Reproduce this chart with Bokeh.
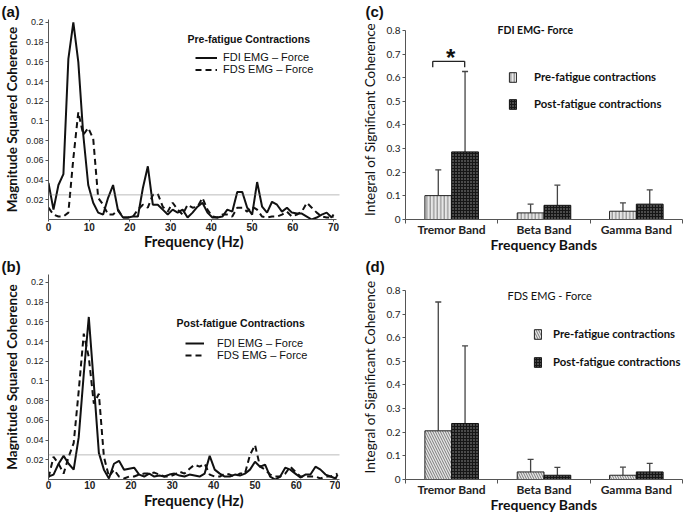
from bokeh.plotting import figure
from bokeh.models import (Range1d, FactorRange, FixedTicker, Span, Label, Legend, LegendItem,
                          Whisker, TeeHead, ColumnDataSource, Title, LinearAxis)
from bokeh.transform import dodge
from bokeh.layouts import row, column
from bokeh.embed import file_html
from bokeh.resources import INLINE
from bokeh.core.properties import value

# ---------------- data ----------------
freq = [0, 1.22, 2.44, 3.66, 4.88, 6.1, 7.32, 8.54, 9.76, 10.98, 12.2, 13.42, 14.64, 15.86,
        17.08, 18.3, 19.52, 20.74, 21.96, 23.18, 24.4, 25.62, 26.84, 28.06, 29.28, 30.5,
        31.72, 32.94, 34.16, 35.38, 36.6, 37.82, 39.04, 40.26, 41.48, 42.7, 43.92, 45.14,
        46.36, 47.58, 48.8, 50.02, 51.24, 52.46, 53.68, 54.9, 56.12, 57.34, 58.56, 59.78,
        61.0, 62.22, 63.44, 64.66, 65.88, 67.1, 68.32, 69.54, 70.0]

pre_fdi = [0.037, 0.010, 0.035, 0.046, 0.163, 0.200, 0.160, 0.086, 0.035, 0.017,
           0.007, 0.005, 0.022, 0.035, 0.009, 0.002, 0.002, 0.003, 0.003, 0.032,
           0.054, 0.015, 0.015, 0.010, 0.005, 0.010, 0.007, 0.010, 0.002, 0.007,
           0.013, 0.017, 0.007, 0.002, 0.002, 0.003, 0.010, 0.008, 0.028, 0.028,
           0.012, 0.005, 0.038, 0.013, 0.007, 0.018, 0.015, 0.008, 0.012, 0.007,
           0.006, 0.006, 0.003, 0.000, 0.002, 0.005, 0.007, 0.002, 0.005]
pre_fds = [0.012, 0.005, 0.003, 0.003, 0.007, 0.062, 0.109, 0.086, 0.093, 0.082,
           0.022, 0.015, 0.005, 0.005, 0.010, 0.002, 0.002, 0.003, 0.010, 0.015,
           0.012, 0.025, 0.026, 0.013, 0.008, 0.017, 0.010, 0.005, 0.015, 0.012,
           0.013, 0.022, 0.010, 0.003, 0.002, 0.005, 0.005, 0.003, 0.012, 0.012,
           0.008, 0.013, 0.010, 0.003, 0.002, 0.003, 0.003, 0.005, 0.008, 0.003,
           0.005, 0.008, 0.017, 0.012, 0.007, 0.003, 0.002, 0.002, 0.003]
post_fdi = [0.003, 0.005, 0.016, 0.024, 0.016, 0.010, 0.043, 0.107, 0.165, 0.097,
            0.027, 0.010, 0.001, 0.016, 0.019, 0.010, 0.011, 0.012, 0.005, 0.003,
            0.006, 0.003, 0.004, 0.003, 0.005, 0.006, 0.004, 0.003, 0.005, 0.004,
            0.003, 0.006, 0.024, 0.010, 0.006, 0.003, 0.003, 0.005, 0.004, 0.006,
            0.010, 0.018, 0.013, 0.015, 0.003, 0.000, 0.003, 0.012, 0.010, 0.006,
            0.002, 0.005, 0.005, 0.013, 0.010, 0.005, 0.003, 0.001, 0.005]
post_fds = [0.002, 0.023, 0.016, 0.006, 0.023, 0.037, 0.090, 0.148, 0.124, 0.077,
            0.087, 0.023, 0.003, 0.010, 0.003, 0.001, 0.003, 0.003, 0.005, 0.006,
            0.006, 0.007, 0.005, 0.003, 0.003, 0.005, 0.008, 0.006, 0.011, 0.015,
            0.013, 0.016, 0.005, 0.003, 0.003, 0.006, 0.005, 0.003, 0.006, 0.006,
            0.025, 0.035, 0.013, 0.010, 0.005, 0.003, 0.003, 0.006, 0.013, 0.008,
            0.003, 0.003, 0.003, 0.003, 0.001, 0.003, 0.003, 0.005, 0.006]
threshold = 0.025

coh_ticks = [0.02, 0.04, 0.06, 0.08, 0.1, 0.12, 0.14, 0.16, 0.18, 0.2]
coh_tick_labels = ["0.02", "0.04", "0.06", "0.08", "0.1", "0.12", "0.14", "0.16", "0.18", "0.2"]
freq_ticks = [0, 10, 20, 30, 40, 50, 60, 70]

bands = ["Tremor Band", "Beta Band", "Gamma Band"]
fdi_pre_mean = [0.101, 0.028, 0.035]
fdi_pre_sd = [0.109, 0.037, 0.035]
fdi_post_mean = [0.286, 0.060, 0.065]
fdi_post_sd = [0.340, 0.085, 0.060]
fds_pre_mean = [0.206, 0.032, 0.018]
fds_pre_sd = [0.545, 0.053, 0.034]
fds_post_mean = [0.237, 0.018, 0.032]
fds_post_sd = [0.328, 0.033, 0.036]
sig_level = 0.669
bar_ticks = [0, 0.1, 0.2, 0.3, 0.4, 0.5, 0.6, 0.7, 0.8]
bar_tick_labels = ["0", "0.1", "0.2", "0.3", "0.4", "0.5", "0.6", "0.7", "0.8"]

ARIAL = "Liberation Sans"
CAL = "Lato"
INK = "#111111"
AXC = "#555555"


def style_axes(p):
    for ax in list(p.xaxis) + list(p.yaxis):
        ax.axis_line_color = AXC
        ax.major_tick_line_color = AXC
        ax.minor_tick_line_color = None
        ax.major_tick_in = 0
        ax.major_tick_out = 3
        ax.major_label_text_color = "#222222"
        ax.axis_label_text_color = INK


def base_fig(w, h, xr, yr, bl, br, bt, bb, letter, letter_off, x_axis_type="auto"):
    p = figure(width=w, height=h, x_range=xr, y_range=yr, title=None,
               x_axis_type=x_axis_type,
               output_backend="svg", toolbar_location=None,
               min_border_left=bl, min_border_right=br, min_border_top=bt, min_border_bottom=bb)
    p.outline_line_color = None
    p.xgrid.grid_line_color = None
    p.ygrid.grid_line_color = None
    p.background_fill_color = "white"
    p.border_fill_color = "white"
    p.add_layout(Title(text=letter, align="left", offset=letter_off, standoff=0,
                       text_font=ARIAL, text_font_size="15px", text_font_style="bold",
                       text_color=INK), "above")
    return p


def coh_panel(w, h, bl, br, bt, bb, xend, xbound, yend, fdi, fds, letter, title,
              leg_x, leg_y, title_x, title_y, glyph_w, glyph_h, standoff,
              letter_off, xtick_out, xlab_standoff, xaxlab_standoff):
    p = base_fig(w, h, Range1d(0, xend), Range1d(0, yend), bl, br, bt, bb, letter, letter_off)
    style_axes(p)
    r1 = p.line(freq, fdi, line_color=INK, line_width=2)
    r2 = p.line(freq, fds, line_color=INK, line_width=2, line_dash="6 4")
    p.add_layout(Span(location=threshold, dimension="width", line_color="#777777",
                      line_width=1, line_dash="1 1"))

    p.yaxis.ticker = FixedTicker(ticks=coh_ticks)
    p.yaxis.major_label_overrides = {t: l for t, l in zip(coh_ticks, coh_tick_labels)}
    p.xaxis.ticker = FixedTicker(ticks=freq_ticks)
    p.xaxis.bounds = (0, xbound)
    p.yaxis.major_label_text_font = ARIAL
    p.yaxis.major_label_text_font_size = "9px"
    p.yaxis.major_label_standoff = 2
    p.yaxis.axis_label = "Magnitude Squared Coherence"
    p.yaxis.axis_label_text_font = CAL
    p.yaxis.axis_label_text_font_size = "13.5px"
    p.yaxis.axis_label_text_font_style = "bold"
    p.yaxis.axis_label_standoff = 3
    p.xaxis.major_tick_out = xtick_out
    p.xaxis.major_label_text_font = ARIAL
    p.xaxis.major_label_text_font_size = "10px"
    p.xaxis.major_label_text_font_style = "bold"
    p.xaxis.major_label_standoff = xlab_standoff
    p.xaxis.axis_label = "Frequency (Hz)"
    p.xaxis.axis_label_text_font = CAL
    p.xaxis.axis_label_text_font_size = "15px"
    p.xaxis.axis_label_text_font_style = "bold"
    p.xaxis.axis_label_standoff = xaxlab_standoff

    leg = Legend(items=[LegendItem(label="FDI EMG \u2013 Force", renderers=[r1]),
                        LegendItem(label="FDS EMG \u2013 Force", renderers=[r2])],
                 location=(leg_x, leg_y), orientation="vertical",
                 background_fill_alpha=0, border_line_color=None,
                 padding=0, margin=0, spacing=0,
                 glyph_width=glyph_w, glyph_height=glyph_h, label_height=glyph_h,
                 label_standoff=standoff,
                 label_text_font=ARIAL, label_text_font_size="11px",
                 label_text_color=INK, label_text_baseline="middle")
    p.add_layout(leg)
    p.add_layout(Label(x=title_x, y=title_y, x_units="screen", y_units="screen",
                       text=title, text_font=ARIAL, text_font_size="10.5px",
                       text_font_style="bold", text_baseline="middle", text_color=INK))
    return p


def band_panel(w, h, bl, br, bt, bb, yend, pre_mean, pre_sd, post_mean, post_sd, letter,
               title, title_bold, title_x, title_y, leg_x, leg_y, leg_spacing, standoff,
               pre_hatch, hatch_scale, sig, letter_off):
    p = base_fig(w, h, FactorRange(*bands), Range1d(0, yend), bl, br, bt, bb, letter,
                 letter_off, x_axis_type=None)
    p.x_range.range_padding = 0
    # category centres sit at 0.5, 1.5, 2.5 of the factor range; boundary ticks at 0..3
    centres = [i + 0.5 for i in range(len(bands))]
    bounds_ticks = [i for i in range(len(bands) + 1)]
    xax = LinearAxis(ticker=FixedTicker(ticks=centres, minor_ticks=bounds_ticks),
                     major_label_overrides={c: b for c, b in zip(centres, bands)})
    p.add_layout(xax, "below")
    style_axes(p)

    src = ColumnDataSource(dict(
        band=bands, pre=pre_mean, post=post_mean,
        pre_up=[m + s for m, s in zip(pre_mean, pre_sd)],
        post_up=[m + s for m, s in zip(post_mean, post_sd)]))
    bw = 0.29
    off = bw / 2
    rpre = p.vbar(x=dodge("band", -off, range=p.x_range), top="pre", width=bw, source=src,
                  fill_color="#e6e6e6", line_color="#222222", line_width=1,
                  hatch_pattern=pre_hatch, hatch_color="#7a7a7a", hatch_scale=hatch_scale,
                  hatch_weight=1)
    rpost = p.vbar(x=dodge("band", off, range=p.x_range), top="post", width=bw, source=src,
                   fill_color="#161616", line_color=INK, line_width=1,
                   hatch_pattern="dot", hatch_color="#9a9a9a", hatch_scale=3,
                   hatch_weight=1)
    for dx, top, up in ((-off, "pre", "pre_up"), (off, "post", "post_up")):
        p.add_layout(Whisker(source=src, base=dodge("band", dx, range=p.x_range),
                             lower=top, upper=up, line_color="#444444", line_width=1.3,
                             upper_head=TeeHead(size=6, line_color="#444444", line_width=1.3),
                             lower_head=None))

    if sig:
        sig_src = ColumnDataSource(dict(band=[bands[0]], y=[sig_level],
                                        y_low=[sig_level - 0.025], star=["*"],
                                        ys=[sig_level + 0.072]))
        xl = dodge("band", -0.205, range=p.x_range)
        xr = dodge("band", 0.141, range=p.x_range)
        p.segment(x0=xl, y0="y", x1=xr, y1="y", source=sig_src, line_color="#222222",
                  line_width=1.3)
        p.segment(x0=xl, y0="y", x1=xl, y1="y_low", source=sig_src, line_color="#222222",
                  line_width=1.3)
        p.segment(x0=xr, y0="y", x1=xr, y1="y_low", source=sig_src, line_color="#222222",
                  line_width=1.3)
        p.text(x=dodge("band", -0.01, range=p.x_range), y="ys", text="star", source=sig_src,
               text_font=value(ARIAL), text_font_size="24px", text_font_style="bold",
               text_align="center", text_baseline="top", text_color=INK)

    p.yaxis.ticker = FixedTicker(ticks=bar_ticks)
    p.yaxis.major_label_overrides = {t: l for t, l in zip(bar_ticks, bar_tick_labels)}
    p.yaxis.bounds = (0, 0.8)
    xax.major_tick_line_color = None
    xax.major_tick_out = 0
    xax.minor_tick_line_color = AXC
    xax.minor_tick_in = 0
    xax.minor_tick_out = 4
    p.yaxis.major_label_text_font = CAL
    p.yaxis.major_label_text_font_size = "10px"
    p.yaxis.major_label_standoff = 2
    p.yaxis.axis_label = "Integral of Significant Coherence"
    p.yaxis.axis_label_text_font = CAL
    p.yaxis.axis_label_text_font_size = "13.5px"
    p.yaxis.axis_label_text_font_style = "normal"
    p.yaxis.axis_label_standoff = 6
    xax.major_label_text_font = CAL
    xax.major_label_text_font_size = "12px"
    xax.major_label_text_font_style = "bold"
    xax.major_label_standoff = -2
    xax.axis_label = "Frequency Bands"
    xax.axis_label_text_font = CAL
    xax.axis_label_text_font_size = "14px"
    xax.axis_label_text_font_style = "bold"
    xax.axis_label_standoff = -4

    leg = Legend(items=[LegendItem(label="Pre-fatigue contractions", renderers=[rpre]),
                        LegendItem(label="Post-fatigue contractions", renderers=[rpost])],
                 location=(leg_x, leg_y), orientation="vertical",
                 background_fill_alpha=0, border_line_color=None,
                 padding=0, margin=0, spacing=leg_spacing,
                 glyph_width=9, glyph_height=12, label_height=12,
                 label_standoff=standoff,
                 label_text_font=CAL, label_text_font_size="11.3px",
                 label_text_font_style="bold", label_text_color=INK,
                 label_text_baseline="middle")
    p.add_layout(leg)
    p.add_layout(Label(x=title_x, y=title_y, x_units="screen", y_units="screen",
                       text=title, text_font=CAL, text_font_size="10.5px" if title_bold else "11px",
                       text_font_style="bold" if title_bold else "normal",
                       text_baseline="middle", text_color=INK))
    return p


# row 1: top border 17, bottom 35 ; row 2: top 17, bottom 35
# column 1: left 48, right 1 ; column 2: left 65, right 3
pa = coh_panel(340, 255, 48, 1, 17, 35, 71.47, 70.8, 0.203, pre_fdi, pre_fds, "(a)",
               "Pre-fatigue Contractions", 147, 144, 139, 181, 22, 11, 6,
               -47, 2, 1, -2)
pc = band_panel(345, 255, 65, 3, 17, 35, 0.846, fdi_pre_mean, fdi_pre_sd,
                fdi_post_mean, fdi_post_sd, "(c)", "FDI EMG- Force", True, 92, 190,
                103, 109, 14, 17, "vertical_line", 3.5, True, -40)
pb = coh_panel(340, 260, 48, 1, 17, 35, 70.48, 70.5, 0.2081, post_fdi, post_fds, "(b)",
               "Post-fatigue Contractions", 137, 118, 128, 157, 19, 12, 13,
               -47, 1, 0, -1)
pd_ = band_panel(345, 260, 65, 3, 17, 35, 0.8674, fds_pre_mean, fds_pre_sd,
                 fds_post_mean, fds_post_sd, "(d)", "FDS EMG - Force", False, 102, 184,
                 128, 111, 15, 11, "left_diagonal_line", 5, False, -40)

layout = column(row(pa, pc), row(pb, pd_))
open("out.html", "w").write(file_html(layout, INLINE))
